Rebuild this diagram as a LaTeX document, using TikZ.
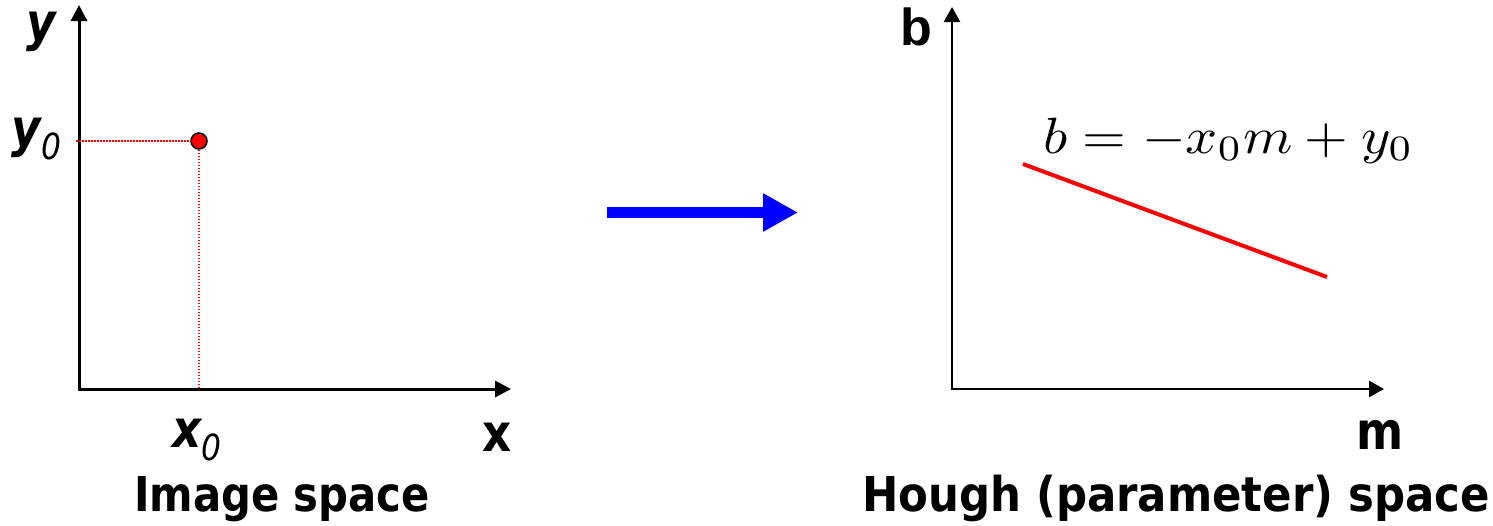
\documentclass[tikz,border=0pt]{standalone}
\usepackage{fontspec}
\usetikzlibrary{arrows.meta}
\newfontfamily\labfont{DejaVu Sans}[FakeStretch=0.87]
\newfontfamily\arialfont{Liberation Sans}
\tikzset{
  lbl/.style={inner sep=0pt, outer sep=0pt, anchor=base west},
  bigaxis/.style={line width=3pt, -{Triangle[length=16pt,width=16pt]}},
  smallaxis/.style={line width=2.5pt, -{Triangle[length=15pt,width=16pt]}},
  guide/.style={red, line width=1.3pt, dash pattern=on 1.6pt off 1.4pt},
}
\begin{document}
\begin{tikzpicture}[x=1pt,y=-1pt]
\useasboundingbox (0,0) rectangle (1493,525);
% ---- image space ----
\coordinate (o1) at (79,389);
\coordinate (ytip) at (79,5);
\coordinate (xtip) at (511,389);
\draw[bigaxis] (o1) -- (ytip);
\draw[bigaxis] ([xshift=-1.5pt]o1) -- (xtip);
\node[circle, fill=red, draw=black, line width=1.5pt, minimum size=16pt, inner sep=0pt] (pt) at (199,141) {};
\coordinate (gy) at (76,141);
\coordinate (gx) at (199,387);
\draw[guide] (gy) -- (pt.west);
\draw[guide] (pt.south) -- (gx);
\node[lbl] (ylab) at (27,40) {\labfont\fontsize{52}{60}\selectfont\bfseries\itshape y};
\node[lbl] (y0lab) at (12,146) {\labfont\fontsize{52}{60}\selectfont\bfseries\itshape y\raisebox{-0.25em}{\fontsize{36}{40}\selectfont\mdseries 0}};
\node[lbl] (x0lab) at (172,447) {\labfont\fontsize{52}{60}\selectfont\bfseries\itshape x\raisebox{-0.25em}{\fontsize{36}{40}\selectfont\mdseries 0}};
\node[lbl] (xlab) at (482,451) {\labfont\fontsize{52}{60}\selectfont\bfseries x};
\node[lbl] (cap1) at (134,511) {\labfont\fontsize{48}{56}\selectfont\bfseries Image space};
% ---- transform arrow ----
\coordinate (a1) at (607,212.5);
\coordinate (a2) at (798,212.5);
\draw[blue, line width=11pt, -{Triangle[length=35pt,width=36pt]}] (a1) -- (a2);
% ---- hough space ----
\coordinate (o2) at (952,389);
\coordinate (btip) at (952,7);
\coordinate (mtip) at (1384,389);
\draw[smallaxis] (o2) -- (btip);
\draw[smallaxis] ([xshift=-1.25pt]o2) -- (mtip);
\coordinate (l1) at (1023,164);
\coordinate (l2) at (1327,277);
\draw[red, line width=4pt] (l1) -- (l2);
\node[lbl] (eq) at (1043,153) {\scalebox{5.62}[5.1]{\fontsize{10}{12}\selectfont $b=-x_0m+y_0$}};
\node[lbl] (blab) at (900,45) {\arialfont\fontsize{52}{60}\selectfont\bfseries b};
\node[lbl] (mlab) at (1356,449) {\labfont\fontsize{52}{60}\selectfont\bfseries m};
\node[lbl] (cap2) at (862,511) {\scalebox{1.04}[1]{\labfont\fontsize{48}{56}\selectfont\bfseries Hough (parameter) space}};
\end{tikzpicture}
\end{document}
